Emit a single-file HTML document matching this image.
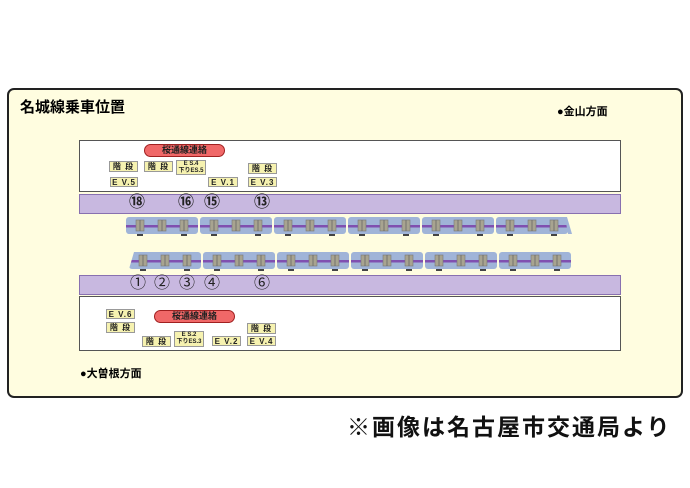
<!DOCTYPE html>
<html><head><meta charset="utf-8"><style>
body{margin:0;width:690px;height:488px;background:#fff;position:relative;overflow:hidden;font-family:"Liberation Sans","Noto Sans CJK JP",sans-serif}
.a{position:absolute}
.outer{left:7px;top:88px;width:676px;height:310px;background:#fffde0;border:2px solid #222;border-radius:7px;box-sizing:border-box}
.wb{background:#fff;border:1px solid #555;box-sizing:border-box}
.pb{background:#c8b8e0;border:1px solid #8870b0;box-sizing:border-box}
.lb{background:#f6f2b0;border:1px solid #999;box-sizing:border-box;font-size:8px;font-weight:bold;text-align:center;color:#222;line-height:9px;letter-spacing:1px}
.pill{background:#f06868;border:1px solid #a02020;border-radius:7px;box-sizing:border-box;font-size:9px;font-weight:bold;text-align:center;line-height:11px;color:#222}
.n{font-size:16px;color:#222;line-height:16px}
.nb{font-weight:bold}
</style></head><body>
<div class="a outer"></div>
<div class="a" style="left:20px;top:96px;font-size:15px;font-weight:bold">名城線乗車位置</div>
<div class="a" style="left:557px;top:103px;font-size:11px;font-weight:bold">●金山方面</div>
<div class="a" style="left:80px;top:365px;font-size:11px;font-weight:bold">●大曽根方面</div>
<div class="a wb" style="left:79px;top:140px;width:542px;height:52px"></div>
<div class="a pb" style="left:79px;top:194px;width:542px;height:20px"></div>
<div class="a pb" style="left:79px;top:275px;width:542px;height:20px"></div>
<div class="a wb" style="left:79px;top:296px;width:542px;height:55px"></div>

<div class="a pill" style="left:144px;top:144px;width:81px;height:13px">桜通線連絡</div>
<div class="a lb" style="left:109px;top:161px;width:29px;height:11px;line-height:10px">階 段</div>
<div class="a lb" style="left:110px;top:177px;width:28px;height:10px">E V.5</div>
<div class="a lb" style="left:144px;top:161px;width:29px;height:11px;line-height:10px">階 段</div>
<div class="a lb" style="left:176px;top:160px;width:30px;height:15px;font-size:6px;line-height:6.5px;letter-spacing:0">E S.4<br>下りES.5</div>
<div class="a lb" style="left:208px;top:177px;width:30px;height:10px">E V.1</div>
<div class="a lb" style="left:248px;top:163px;width:29px;height:11px;line-height:10px">階 段</div>
<div class="a lb" style="left:248px;top:177px;width:29px;height:10px">E V.3</div>

<div class="a n nb" style="left:129px;top:195px">⑱</div>
<div class="a n nb" style="left:178px;top:195px">⑯</div>
<div class="a n nb" style="left:204px;top:195px">⑮</div>
<div class="a n nb" style="left:254px;top:195px">⑬</div>
<div class="a n" style="left:130px;top:276px">①</div>
<div class="a n" style="left:154px;top:276px">②</div>
<div class="a n" style="left:179px;top:276px">③</div>
<div class="a n" style="left:204px;top:276px">④</div>
<div class="a n" style="left:254px;top:276px">⑥</div>

<div class="a lb" style="left:106px;top:309px;width:29px;height:10px">E V.6</div>
<div class="a lb" style="left:106px;top:322px;width:29px;height:11px;line-height:10px">階 段</div>
<div class="a pill" style="left:154px;top:310px;width:81px;height:13px">桜通線連絡</div>
<div class="a lb" style="left:142px;top:336px;width:29px;height:11px;line-height:10px">階 段</div>
<div class="a lb" style="left:174px;top:331px;width:30px;height:16px;font-size:6px;line-height:7px;letter-spacing:0">E S.2<br>下りES.3</div>
<div class="a lb" style="left:212px;top:336px;width:29px;height:10px">E V.2</div>
<div class="a lb" style="left:247px;top:323px;width:29px;height:11px;line-height:10px">階 段</div>
<div class="a lb" style="left:247px;top:336px;width:29px;height:10px">E V.4</div>

<svg class="a" style="left:0;top:0" width="690" height="488">
<defs>
<g id="c">
<rect x="0" y="0" width="72" height="17" rx="3" fill="#a0b4d8"/>
<rect x="0" y="8" width="72" height="2.5" fill="#8050b0"/>
<g fill="#a8a490" stroke="#777" stroke-width="0.6">
<rect x="10" y="3" width="8" height="11"/><rect x="32" y="3" width="8" height="11"/><rect x="54" y="3" width="8" height="11"/></g>
<g stroke="#666" stroke-width="0.8"><line x1="14" y1="3" x2="14" y2="14"/><line x1="36" y1="3" x2="36" y2="14"/><line x1="58" y1="3" x2="58" y2="14"/></g>
<g fill="#444"><rect x="11" y="17" width="6" height="2"/><rect x="55" y="17" width="6" height="2"/></g>
</g>
</defs>
<use href="#c" x="126" y="217"/><use href="#c" x="200" y="217"/><use href="#c" x="274" y="217"/>
<use href="#c" x="348" y="217"/><use href="#c" x="422" y="217"/><use href="#c" x="496" y="217"/>
<polygon points="566,217 572,234 572,217" fill="#fffde0"/><polygon points="565,217 567,217 572,234 568,234" fill="#a0b4d8"/>
<use href="#c" x="129" y="252"/><use href="#c" x="203" y="252"/><use href="#c" x="277" y="252"/>
<use href="#c" x="351" y="252"/><use href="#c" x="425" y="252"/><use href="#c" x="499" y="252"/>
<polygon points="128,252 134,252 129,269 126,269" fill="#fffde0"/>
</svg>
<div class="a" style="left:347px;top:408px;font-size:23px;font-weight:bold;color:#111;letter-spacing:2px;white-space:nowrap">※画像は名古屋市交通局より</div>
</body></html>
